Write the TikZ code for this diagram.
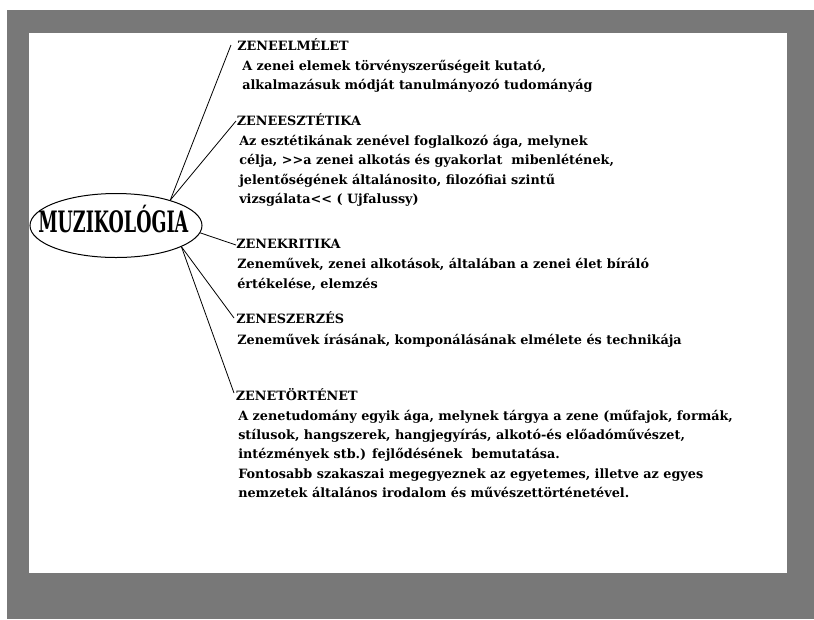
\documentclass[tikz,border=0pt]{standalone}
\usepackage{fontspec}
\usepackage{graphicx}
\setmainfont{DejaVu Serif}
\usetikzlibrary{shapes.geometric}
\definecolor{bggray}{RGB}{120,120,120}
\begin{document}
\begin{tikzpicture}[x=0.75pt,y=-0.75pt,
  txt/.style={anchor=base west, inner sep=0pt, font=\bfseries\fontsize{9.6}{14.4}\selectfont, align=left},
  conn/.style={draw=black, line width=0.6pt},
  ellnode/.style={draw=black, line width=0.75pt, ellipse, inner sep=0pt, minimum width=129pt, minimum height=48pt}]
\useasboundingbox (0,0) rectangle (814,619);
\fill[white] (0,0) rectangle (814,619);
\fill[bggray] (7,10) rectangle (814,619);
\fill[white] (29,33) rectangle (787,573);

\node[ellnode] (muz) at (116,225.5) {};
\node[inner sep=0pt, anchor=base] (muzt) at (113.3,232.5) {\resizebox{112.5pt}{20.5pt}{\bfseries MUZIKOLÓGIA}};

% multi-line nodes: base anchor = baseline of the last line
\node[txt] (h1) at (237,50) {ZENEELMÉLET};
\node[txt] (b1) at (242,89.3) {A zenei elemek törvényszerűségeit kutató,\\alkalmazásuk módját tanulmányozó tudományág};
\node[txt] (h2) at (236.5,125) {ZENEESZTÉTIKA};
\node[txt] (b2) at (239,203.3) {Az esztétikának zenével foglalkozó ága, melynek\\célja, >{}>a zenei alkotás és gyakorlat\ \ mibenlétének,\\jelentőségének általánosito, filozófiai szintű\\vizsgálata<{}< ( Ujfalussy)};
\node[txt] (h3) at (236,248) {ZENEKRITIKA};
\node[txt] (b3) at (237,288) {Zeneművek, zenei alkotások, általában a zenei élet bíráló\\értékelése, elemzés};
\node[txt] (h4) at (236,323) {ZENESZERZÉS};
\node[txt] (b4) at (237,344.3) {Zeneművek írásának, komponálásának elmélete és technikája};
\node[txt] (h5) at (235.5,400) {ZENETÖRTÉNET};
\node[txt] (b5) at (238,497.3) {A zenetudomány egyik ága, melynek tárgya a zene (műfajok, formák,\\stílusok, hangszerek, hangjegyírás, alkotó-és előadóművészet,\\intézmények stb.) fejlődésének\ \ bemutatása.\\Fontosabb szakaszai megegyeznek az egyetemes, illetve az egyes\\nemzetek általános irodalom és művészettörténetével.};

\coordinate (e1) at (231,45);
\coordinate (e2) at (236,121);
\coordinate (e3) at (236,245);
\coordinate (e4) at (234,318);
\coordinate (e5) at (234,393);

\draw[conn] (muz.25) -- (e1);
\draw[conn] (muz.25) -- (e2);
\draw[conn] (muz.-5) -- (e3);
\draw[conn] (muz.-18) -- (e4);
\draw[conn] (muz.-18) -- (e5);
\end{tikzpicture}
\end{document}
